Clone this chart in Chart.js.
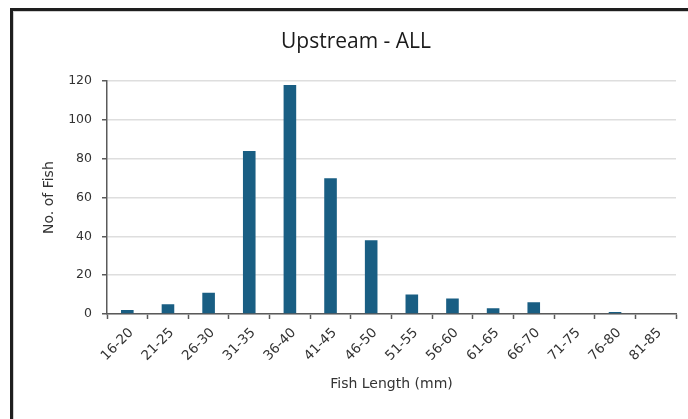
<!DOCTYPE html>
<html>
<head>
<meta charset="utf-8">
<title>Upstream - ALL</title>
<script src="https://cdn.jsdelivr.net/npm/chart.js@4/dist/chart.umd.min.js"></script>
<style>
  html, body { margin: 0; padding: 0; background: #ffffff; }
  #wrap { position: relative; width: 688px; height: 419px; }
</style>
</head>
<body>
<div id="wrap"><canvas id="chart" width="688" height="419"></canvas></div>
<script>
// Length classes (mm) and fish counts per class
const lengthClasses = ['16-20', '21-25', '26-30', '31-35', '36-40', '41-45', '46-50',
                       '51-55', '56-60', '61-65', '66-70', '71-75', '76-80', '81-85'];
const fishCounts = [2, 5, 11, 84, 118, 70, 38, 10, 8, 3, 6, 0, 1, 0];
const countTicks = [0, 20, 40, 60, 80, 100, 120];

const chartTitle = 'Upstream - ALL';
const xAxisTitle = 'Fish Length (mm)';
const yAxisTitle = 'No. of Fish';

// White card with a dark frame behind the chart
const framePlugin = {
  id: 'frame',
  beforeDraw(chart) {
    const ctx = chart.ctx;
    ctx.save();
    ctx.fillStyle = '#ffffff';
    ctx.fillRect(0, 0, chart.width, chart.height);
    ctx.strokeStyle = '#d0d0d0';
    ctx.lineWidth = 1;
    ctx.strokeRect(13.5, 11.5, chart.width + 20, chart.height + 20);
    ctx.strokeStyle = '#1e1e1e';
    ctx.lineWidth = 3;
    ctx.strokeRect(11.5, 9.5, chart.width + 20, chart.height + 20);
    ctx.restore();
  }
};

const textColor = '#333333';
const axisColor = '#5a5a5a';

new Chart(document.getElementById('chart'), {
  type: 'bar',
  data: {
    labels: lengthClasses,
    datasets: [{
      label: yAxisTitle,
      data: fishCounts,
      backgroundColor: '#195e83',
      borderColor: '#195e83',
      borderWidth: 0,
      categoryPercentage: 1.0,
      barPercentage: 0.31
    }]
  },
  options: {
    responsive: false,
    animation: false,
    devicePixelRatio: 1,
    layout: { padding: { left: 36, right: 12, top: 0, bottom: 0 } },
    plugins: {
      legend: { display: false },
      tooltip: { enabled: false },
      title: {
        display: true,
        text: chartTitle,
        color: '#1a1a1a',
        font: { family: 'Open Sans', size: 21, weight: 'normal', lineHeight: 1.2 },
        padding: { top: 29, bottom: 27 }
      }
    },
    scales: {
      x: {
        afterFit(scale) { scale.height = 105; },
        border: { display: true, color: axisColor, width: 1.5 },
        grid: {
          display: true,
          offset: true,
          drawOnChartArea: false,
          drawTicks: true,
          tickLength: 5,
          tickColor: axisColor,
          tickWidth: 1.5
        },
        ticks: {
          autoSkip: false,
          maxRotation: 45,
          minRotation: 45,
          padding: 6,
          labelOffset: 4,
          color: textColor,
          font: { family: 'DejaVu Sans', size: 13.5 }
        },
        title: {
          display: true,
          text: xAxisTitle,
          color: textColor,
          font: { family: 'DejaVu Sans', size: 14, lineHeight: 1.2 },
          padding: { top: 0, bottom: 26 }
        }
      },
      y: {
        min: 0,
        max: 120,
        afterFit(scale) { scale.width = 71; },
        afterBuildTicks(scale) { scale.ticks = countTicks.map(v => ({ value: v })); },
        border: { display: true, color: axisColor, width: 1.5 },
        grid: {
          color: '#dedede',
          lineWidth: 1.5,
          drawTicks: true,
          tickLength: 5,
          tickColor: axisColor,
          tickWidth: 1.5
        },
        ticks: {
          padding: 10,
          color: textColor,
          font: { family: 'DejaVu Sans', size: 12.5 }
        },
        title: {
          display: true,
          text: yAxisTitle,
          color: textColor,
          font: { family: 'DejaVu Sans', size: 14, lineHeight: 1.2 },
          padding: { top: 5, bottom: 0 }
        }
      }
    }
  },
  plugins: [framePlugin]
});
</script>
</body>
</html>
